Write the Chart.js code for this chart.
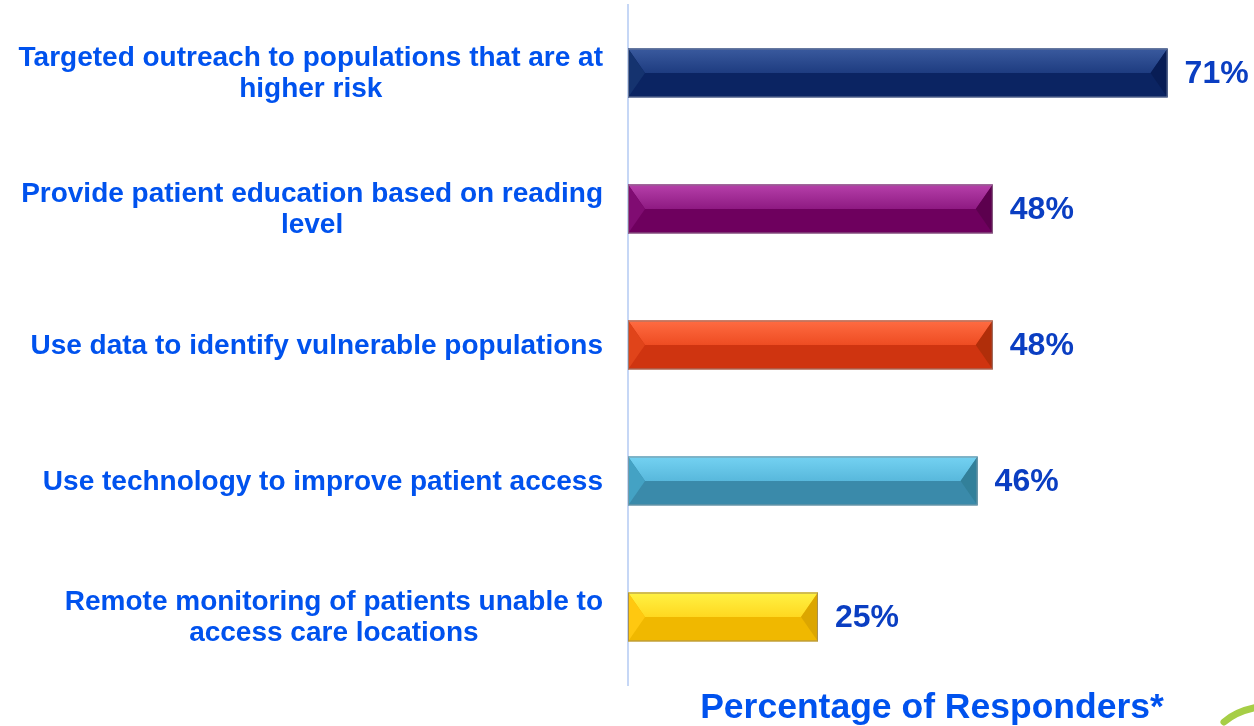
<!DOCTYPE html>
<html>
<head>
<meta charset="utf-8">
<script src="https://cdn.jsdelivr.net/npm/chart.js@4"></script>
<style>
  html, body { margin: 0; padding: 0; background: #ffffff; }
  #wrap { width: 1254px; height: 726px; position: relative; }
</style>
</head>
<body>
<div id="wrap"><canvas id="c"></canvas></div>
<script>
// ---- data ----
const categories = [
  ["Targeted outreach to populations that are at", "higher risk"],
  ["Provide patient education based on reading", "level"],
  ["Use data to identify vulnerable populations"],
  ["Use technology to improve patient access"],
  ["Remote monitoring of patients unable to", "access care locations"]
];
const values = [71, 48, 48, 46, 25];
const axisTitle = "Percentage of Responders*";

// ---- styles ----
const palette = [
  { main: "#0B2462", top1: "#3A5A9E", top2: "#1E3C80", left: "#15336F", right: "#081D55", border: "#6A7898" },
  { main: "#6E005E", top1: "#B640AA", top2: "#8E1A82", left: "#800C72", right: "#5C004E", border: "#8A6A88" },
  { main: "#CF3410", top1: "#FF6C42", top2: "#EE4C22", left: "#E0441A", right: "#B02E0A", border: "#9A7A70" },
  { main: "#3A8AAA", top1: "#74D2F2", top2: "#58B8DC", left: "#44A2C4", right: "#32809A", border: "#7A9AA8" },
  { main: "#F0B800", top1: "#FFF244", top2: "#FFD820", left: "#FFC810", right: "#DCA600", border: "#A89050" }
];
const labelColor = "#0052EE";
const valueColor = "#0A3EC2";
const FONT = "'Liberation Sans', Arial, sans-serif";

const bevelPlugin = {
  id: "bevel",
  afterDatasetsDraw(chart) {
    const ctx = chart.ctx;
    const meta = chart.getDatasetMeta(0);
    meta.data.forEach((bar, i) => {
      const p = bar.getProps(["x", "y", "base", "height"], true);
      const L = Math.min(p.base, p.x), R = Math.max(p.base, p.x);
      const T = p.y - p.height / 2, B = p.y + p.height / 2, M = p.y;
      const b = Math.min(17, (R - L) / 2);
      const c = palette[i];
      ctx.save();
      ctx.fillStyle = c.main;
      ctx.fillRect(L, T, R - L, B - T);
      const g = ctx.createLinearGradient(0, T, 0, M);
      g.addColorStop(0, c.top1);
      g.addColorStop(1, c.top2);
      ctx.fillStyle = g;
      ctx.beginPath();
      ctx.moveTo(L, T); ctx.lineTo(R, T); ctx.lineTo(R - b, M); ctx.lineTo(L + b, M); ctx.closePath();
      ctx.fill();
      ctx.fillStyle = c.left;
      ctx.beginPath();
      ctx.moveTo(L, T); ctx.lineTo(L + b, M); ctx.lineTo(L, B); ctx.closePath();
      ctx.fill();
      ctx.fillStyle = c.right;
      ctx.beginPath();
      ctx.moveTo(R, T); ctx.lineTo(R - b, M); ctx.lineTo(R, B); ctx.closePath();
      ctx.fill();
      ctx.strokeStyle = c.border;
      ctx.lineWidth = 1;
      ctx.strokeRect(L + 0.5, T + 0.5, R - L - 1, B - T - 1);
      ctx.fillStyle = valueColor;
      ctx.font = "bold 32px " + FONT;
      ctx.textAlign = "left";
      ctx.textBaseline = "middle";
      ctx.fillText(values[i] + "%", R + 17, M + 1);
      ctx.restore();
    });
  },
  afterDraw(chart) {
    const ctx = chart.ctx;
    const ys = chart.scales.y;
    const area = chart.chartArea;
    ctx.save();
    ctx.font = "bold 28px " + FONT;
    ctx.fillStyle = labelColor;
    ctx.textBaseline = "middle";
    ctx.textAlign = "center";
    const lh = 31;
    const rightEdge = area.left - 25;
    categories.forEach((lines, i) => {
      const cy = ys.getPixelForValue(i);
      let w = 0;
      lines.forEach(l => { w = Math.max(w, ctx.measureText(l).width); });
      const cx = rightEdge - w / 2;
      const y0 = cy - (lines.length - 1) * lh / 2;
      lines.forEach((l, k) => ctx.fillText(l, cx, y0 + k * lh + 1));
    });
    // decorative green swoosh at the corner
    ctx.strokeStyle = "#A6CE46";
    ctx.lineWidth = 7;
    ctx.lineCap = "round";
    ctx.beginPath();
    ctx.moveTo(1224, 722);
    ctx.quadraticCurveTo(1236, 711, 1258, 707);
    ctx.stroke();
    ctx.restore();
  }
};

new Chart(document.getElementById("c"), {
  type: "bar",
  data: {
    labels: categories,
    datasets: [{
      data: values,
      backgroundColor: "rgba(0,0,0,0)",
      borderWidth: 0,
      barPercentage: 0.36,
      categoryPercentage: 1.0
    }]
  },
  options: {
    indexAxis: "y",
    responsive: true,
    maintainAspectRatio: false,
    animation: false,
    events: [],
    layout: { padding: { top: 5, right: 18, left: 0, bottom: 0 } },
    plugins: { legend: { display: false }, tooltip: { enabled: false } },
    scales: {
      x: {
        min: 0, max: 80,
        grid: { display: false, drawTicks: false },
        border: { display: false },
        ticks: { display: false },
        title: {
          display: true,
          text: axisTitle,
          color: labelColor,
          font: { family: FONT, size: 35.5, weight: "bold", lineHeight: 1.0 },
          padding: { top: 5.5, bottom: 0 }
        }
      },
      y: {
        grid: { display: false, drawTicks: false },
        border: { display: true, color: "#C6D7F6", width: 2 },
        ticks: { display: false },
        afterFit(scale) { scale.width = 628; }
      }
    }
  },
  plugins: [bevelPlugin]
});
</script>
</body>
</html>
